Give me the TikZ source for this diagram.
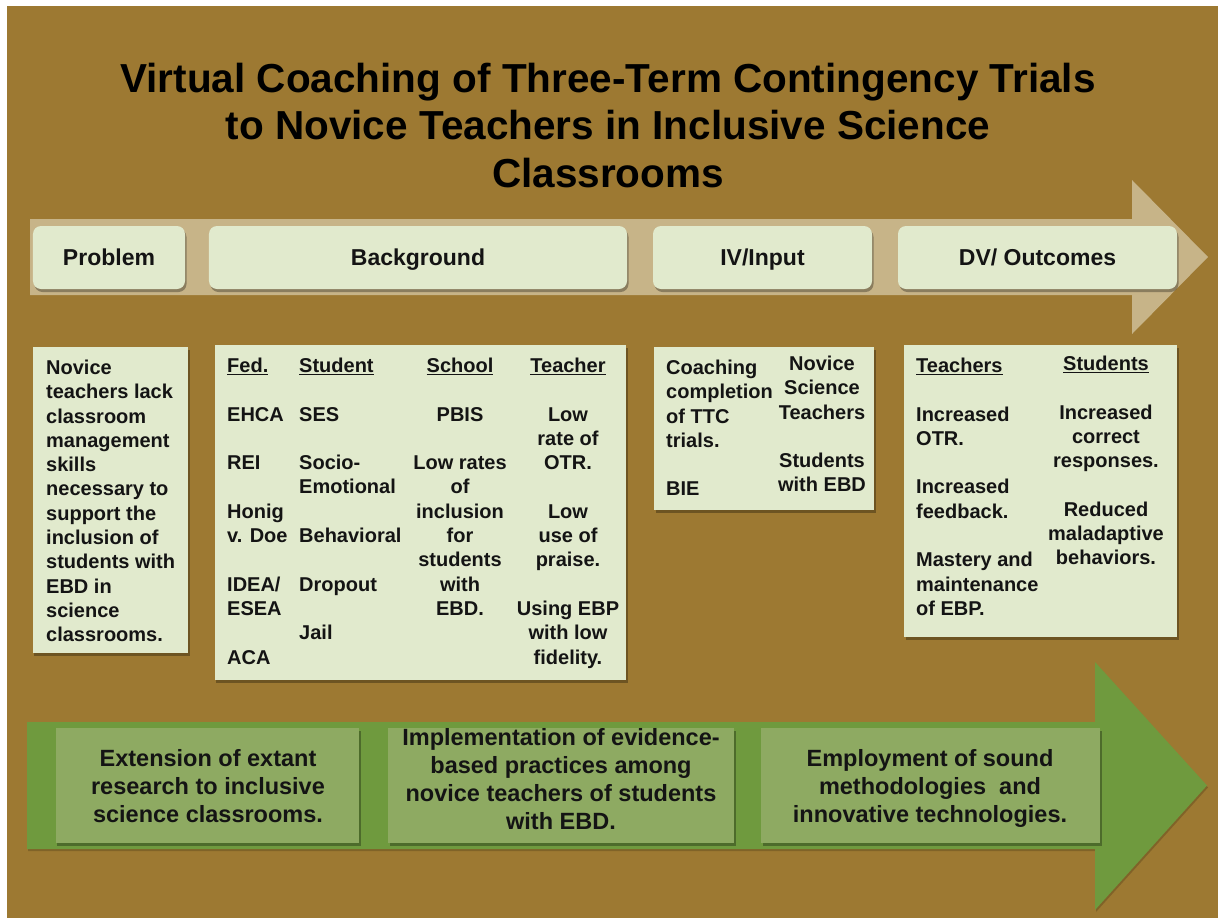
\documentclass[tikz,border=0pt]{standalone}
\usepackage{fontspec}
\setmainfont{Liberation Sans}
\usetikzlibrary{shadows}
\definecolor{woodbg}{RGB}{157,121,50}
\definecolor{beigearrow}{RGB}{199,180,136}
\definecolor{paleg}{RGB}{225,234,205}
\definecolor{greenarrow}{RGB}{111,154,62}
\definecolor{greenbox}{RGB}{142,170,98}
\definecolor{ink}{RGB}{20,20,20}
\tikzset{
  myshadow/.style={drop shadow={shadow xshift=1.5bp, shadow yshift=-3bp, opacity=0.3, fill=black}},
  softshadow/.style={drop shadow={shadow xshift=1bp, shadow yshift=-2bp, opacity=0.18, fill=black}},
  hdrbox/.style={fill=paleg, draw=none, rounded corners=8bp, myshadow, inner sep=0,
    font=\bfseries\fontsize{23bp}{27bp}\selectfont, text=ink, text height=16.5bp, text depth=0bp},
  infobox/.style={fill=paleg, draw=none, myshadow, inner sep=0},
  gbox/.style={fill=greenbox, draw=none, myshadow, inner sep=0},
  bodytxt/.style={font=\bfseries\fontsize{20bp}{24.3bp}\selectfont, text=ink, inner sep=0},
  lcol/.style={bodytxt, anchor=north west, align=left},
  ccol/.style={bodytxt, anchor=north, align=center},
  bigtxt/.style={font=\bfseries\fontsize{23.5bp}{28bp}\selectfont, text=ink, inner sep=0, anchor=north, align=center},
  titletxt/.style={font=\bfseries\fontsize{40.5bp}{47.5bp}\selectfont, text=black, inner sep=0, anchor=north, align=center},
}
\begin{document}
\begin{tikzpicture}[x=1bp,y=-1bp]
\useasboundingbox (0,0) rectangle (1218,918);
% background
\fill[white] (0,0) rectangle (1218,918);
\fill[woodbg] (7,6) rectangle (1218,918);

% title
\node[titletxt] (title) at (608,58.75) {\strut Virtual Coaching of Three-Term Contingency Trials\\to Novice Teachers in Inclusive Science\\Classrooms};

% top beige arrow
\fill[beigearrow] (30,219) -- (1132,219) -- (1132,180) -- (1208,257) -- (1132,334) -- (1132,295) -- (30,295) -- cycle;

% header boxes
\node[hdrbox, minimum width=152bp, minimum height=63bp] (hprob) at (109,257.5) {Problem};
\node[hdrbox, minimum width=418bp, minimum height=63bp] (hback) at (418,257.5) {Background};
\node[hdrbox, minimum width=219bp, minimum height=63bp] (hiv) at (762.5,257.5) {IV/Input};
\node[hdrbox, minimum width=279bp, minimum height=63bp] (hdv) at (1037.5,257.5) {DV/ Outcomes};

% info boxes
\node[infobox, minimum width=155bp, minimum height=306bp] (probbox) at (110.5,500) {};
\node[infobox, minimum width=411bp, minimum height=335bp] (bgbox) at (420.5,512.5) {};
\node[infobox, minimum width=220bp, minimum height=163bp] (ivbox) at (764,428.5) {};
\node[infobox, minimum width=273bp, minimum height=292bp] (dvbox) at (1040.5,491) {};

% problem text
\node[lcol] (probtxt) at (46,357.2) {\strut Novice\\teachers lack\\classroom\\management\\skills\\necessary to\\support the\\inclusion of\\students with\\EBD in\\science\\classrooms.};

% background columns
\node[lcol] (fedcol) at (227,355.2) {\strut\underline{Fed.}\\[24.3bp]EHCA\\[24.3bp]REI\\[24.3bp]Honig\\v. Doe\\[24.3bp]IDEA/\\ESEA\\[24.3bp]ACA};
\node[lcol] (studcol) at (299,355.2) {\strut\underline{Student}\\[24.3bp]SES\\[24.3bp]Socio-\\Emotional\\[24.3bp]Behavioral\\[24.3bp]Dropout\\[24.3bp]Jail};
\node[ccol] (schcol) at (460,355.2) {\strut\underline{School}\\[24.3bp]PBIS\\[24.3bp]Low rates\\of\\inclusion\\for\\students\\with\\EBD.};
\node[ccol] (teachcol) at (568,355.2) {\strut\underline{Teacher}\\[24.3bp]Low\\rate of\\OTR.\\[24.3bp]Low\\use of\\praise.\\[24.3bp]Using EBP\\with low\\fidelity.};

% IV columns
\node[lcol] (ivleft) at (666,357.2) {\strut Coaching\\completion\\of TTC\\trials.\\[24.3bp]BIE};
\node[ccol] (ivright) at (822,353.2) {\strut Novice\\Science\\Teachers\\[24.3bp]Students\\with EBD};

% DV columns
\node[lcol] (dvteach) at (916,355.2) {\strut\underline{Teachers}\\[24.3bp]Increased\\OTR.\\[24.3bp]Increased\\feedback.\\[24.3bp]Mastery and\\maintenance\\of EBP.};
\node[ccol] (dvstud) at (1106,353.2) {\strut\underline{Students}\\[24.3bp]Increased\\correct\\responses.\\[24.3bp]Reduced\\maladaptive\\behaviors.};

% bottom green arrow
\fill[greenarrow, softshadow] (27,722) -- (1095,722) -- (1095,662) -- (1207,785.5) -- (1095,910) -- (1095,849) -- (27,849) -- cycle;

\node[gbox, minimum width=303bp, minimum height=115bp] (g1) at (207.5,785.5) {};
\node[gbox, minimum width=346bp, minimum height=115bp] (g2) at (561,785.5) {};
\node[gbox, minimum width=339bp, minimum height=115bp] (g3) at (930.5,785.5) {};

\node[bigtxt] (g1t) at (208,746.8) {\strut Extension of extant\\research to inclusive\\science classrooms.};
\node[bigtxt] (g2t) at (561,725.8) {\strut Implementation of evidence-\\based practices among\\novice teachers of students\\with EBD.};
\node[bigtxt] (g3t) at (930,746.8) {\strut Employment of sound\\methodologies\ \ and\\innovative technologies.};
\end{tikzpicture}
\end{document}
